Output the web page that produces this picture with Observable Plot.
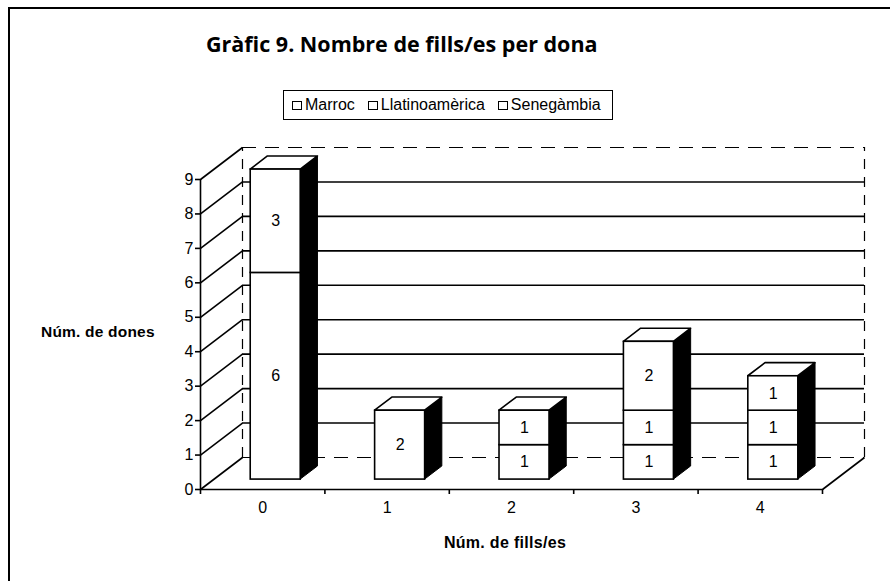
<!DOCTYPE html>
<html>
<head>
<meta charset="utf-8">
<script src="https://cdn.jsdelivr.net/npm/d3@7"></script>
<script src="https://cdn.jsdelivr.net/npm/@observablehq/plot@0.6"></script>
<style>
  html, body { margin: 0; padding: 0; background: #fff; }
  #wrap { position: relative; width: 890px; height: 581px; overflow: hidden; font-family: "Liberation Sans", Arial, sans-serif; color: #000; }
  #frame { position: absolute; left: 8px; top: 7px; width: 900px; height: 600px; border-left: 2px solid #000; border-top: 2px solid #000; }
  #title { position: absolute; left: 206px; top: 29px; font-family: "Open Sans", sans-serif; font-weight: 700; font-size: 21.5px; white-space: nowrap; }
  #legend { position: absolute; left: 283px; top: 90px; width: 330px; height: 30px; border: 1.5px solid #000; box-sizing: border-box; display: flex; align-items: center; padding-left: 8px; font-size: 16px; white-space: nowrap; }
  #legend .item { display: flex; align-items: center; margin-right: 13px; }
  #legend .sw { width: 8px; height: 7px; border: 1.5px solid #000; background: #fff; margin-right: 3px; }
  #ytitle { position: absolute; left: 41px; top: 323px; font-weight: 700; font-size: 15.5px; white-space: nowrap; letter-spacing: 0.2px; }
  #xtitle { position: absolute; left: 505px; top: 534px; transform: translateX(-50%); font-weight: 700; font-size: 16px; white-space: nowrap; letter-spacing: 0.3px; }
  svg { position: absolute; left: 0; top: 0; }
</style>
</head>
<body>
<div id="wrap">
  <div id="frame"></div>
  <div id="title">Gràfic 9. Nombre de fills/es per dona</div>
  <div id="legend"></div>
  <div id="ytitle">Núm. de dones</div>
  <div id="xtitle">Núm. de fills/es</div>
</div>
<script>
// ---- data ----
const categories = [0, 1, 2, 3, 4];
const seriesNames = ["Marroc", "Llatinoamèrica", "Senegàmbia"];
const marroc = [6, 2, 1, 1, 1];
const llatinoamerica = [3, 0, 1, 1, 1];
const senegambia = [0, 0, 0, 2, 1];
const yTicks = [0, 1, 2, 3, 4, 5, 6, 7, 8, 9];

// ---- 3D projection (depth vector in data units) ----
const DX = 0.3376, DY = 0.929;
const HW = 0.201;           // half bar width in category units
const D0 = 0.31, D1 = 0.72; // bar front / back depth

const seriesValues = [marroc, llatinoamerica, senegambia];
const segs = [];
const totals = categories.map((k, i) => {
  let acc = 0;
  seriesValues.forEach((vals, s) => {
    const v = vals[i];
    if (v > 0) segs.push({k, series: seriesNames[s], value: v, y1: acc, y2: acc + v});
    acc += v;
  });
  return {k, total: acc};
});

const sidePts = totals.flatMap(t => [
  {k: t.k, x: t.k + HW + D0 * DX, y1: D0 * DY, y2: t.total + D0 * DY},
  {k: t.k, x: t.k + HW + D1 * DX, y1: D1 * DY, y2: t.total + D1 * DY}
]);
const topPts = totals.flatMap(t => [
  {k: t.k, y: t.total + D0 * DY, x1: t.k - HW + D0 * DX, x2: t.k + HW + D0 * DX},
  {k: t.k, y: t.total + D1 * DY, x1: t.k - HW + D1 * DX, x2: t.k + HW + D1 * DX}
]);

const xMin = categories[0] - 0.5, xMax = categories[categories.length - 1] + 0.5;
const yMax = yTicks[yTicks.length - 1];
const gridVals = yTicks.slice(1, -1);
const boundaries = d3.range(xMin, xMax + 0.01, 1);

const lw = 1.6;
const chart = Plot.plot({
  width: 890,
  height: 581,
  marginLeft: 200,
  marginRight: 68,
  marginTop: 179,
  marginBottom: 92,
  style: {fontFamily: "'Liberation Sans', Arial, sans-serif", fontSize: "16px", color: "#000", background: "transparent"},
  x: {domain: [xMin, xMax]},
  y: {domain: [0, yMax]},
  marks: [
    // back wall grid
    Plot.ruleY(gridVals, {y: v => v + DY, x1: xMin + DX, x2: xMax + DX, stroke: "#000", strokeWidth: lw}),
    Plot.ruleY([0, yMax], {y: v => v + DY, x1: xMin + DX, x2: xMax + DX, stroke: "#000", strokeWidth: 1.2, strokeDasharray: "14,9"}),
    Plot.ruleX([xMin + DX, xMax + DX], {y1: DY, y2: yMax + DY, stroke: "#000", strokeWidth: 1.2, strokeDasharray: "10,8"}),
    // left wall
    Plot.link(yTicks, {x1: xMin, y1: v => v, x2: xMin + DX, y2: v => v + DY, stroke: "#000", strokeWidth: lw}),
    Plot.ruleX([xMin], {y1: 0, y2: yMax, stroke: "#000", strokeWidth: lw}),
    // floor
    Plot.ruleY([0], {x1: xMin, x2: xMax, stroke: "#000", strokeWidth: lw}),
    Plot.link([xMax], {x1: v => v, y1: 0, x2: v => v + DX, y2: DY, stroke: "#000", strokeWidth: lw}),
    // axes
    Plot.axisY(yTicks, {tickSize: 5, tickPadding: 2, label: null, fontSize: 16, strokeWidth: lw, tickFormat: d3.format("d")}),
    Plot.axisX(boundaries, {tickSize: 5, tickFormat: () => "", label: null, strokeWidth: lw}),
    Plot.axisX(categories, {tickSize: 0, tickPadding: 12, label: null, fontSize: 16, tickFormat: d3.format("d")}),
    // bars: side, top, front
    Plot.areaY(sidePts, {x: "x", y1: "y1", y2: "y2", z: "k", fill: "#000", stroke: "#000", strokeWidth: 1}),
    Plot.areaX(topPts, {y: "y", x1: "x1", x2: "x2", z: "k", fill: "#fff", stroke: "#000", strokeWidth: lw}),
    Plot.rect(segs, {x1: d => d.k - HW + D0 * DX, x2: d => d.k + HW + D0 * DX, y1: d => d.y1 + D0 * DY, y2: d => d.y2 + D0 * DY, fill: "#fff", stroke: "#000", strokeWidth: lw}),
    Plot.text(segs, {x: d => d.k + D0 * DX, y: d => (d.y1 + d.y2) / 2 + D0 * DY, text: d => String(d.value), fontSize: 16, fill: "#000"})
  ]
});
document.getElementById("wrap").appendChild(chart);

const legend = document.getElementById("legend");
seriesNames.forEach(name => {
  const item = document.createElement("div");
  item.className = "item";
  const sw = document.createElement("div");
  sw.className = "sw";
  const lab = document.createElement("span");
  lab.textContent = name;
  item.appendChild(sw);
  item.appendChild(lab);
  legend.appendChild(item);
});
</script>
</body>
</html>
